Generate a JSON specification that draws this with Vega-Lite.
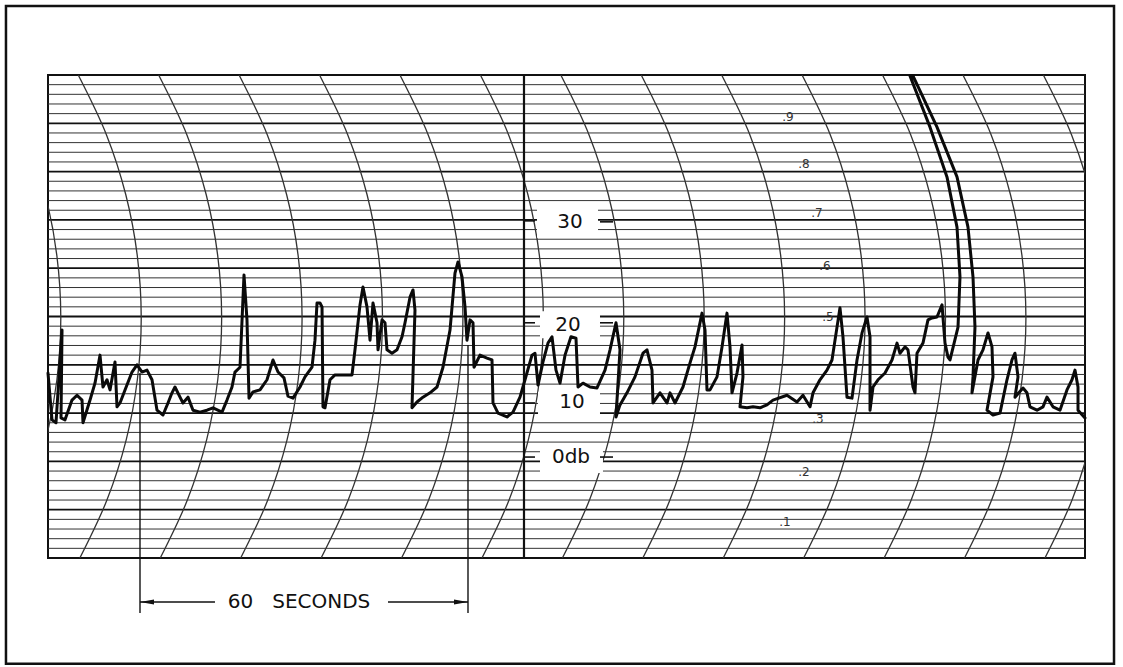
{
"$schema":"https://vega.github.io/schema/vega-lite/v6.json",
"width":1037,"height":483,"autosize":"none",
"padding":{"left":48,"top":75,"right":38,"bottom":109},
"background":"white",
"config":{"view":{"stroke":"#111","strokeWidth":2},"text":{"font":"DejaVu Sans"}},
"datasets":{
"fine":[{"v":0.2},{"v":0.4},{"v":0.6},{"v":0.8},{"v":1.2},{"v":1.4},{"v":1.6},{"v":1.8},{"v":2.2},{"v":2.4},{"v":2.6},{"v":2.8},{"v":3.2},{"v":3.4},{"v":3.6},{"v":3.8},{"v":4.2},{"v":4.4},{"v":4.6},{"v":4.8},{"v":5.2},{"v":5.4},{"v":5.6},{"v":5.8},{"v":6.2},{"v":6.4},{"v":6.6},{"v":6.8},{"v":7.2},{"v":7.4},{"v":7.6},{"v":7.8},{"v":8.2},{"v":8.4},{"v":8.6},{"v":8.8},{"v":9.2},{"v":9.4},{"v":9.6},{"v":9.8}],
"ints":[{"v":1},{"v":2},{"v":3},{"v":4},{"v":5},{"v":6},{"v":7},{"v":8},{"v":9}],
"arcs":[
{"a":0,"t":-9.41,"v":10},{"a":0,"t":-4.11,"v":8.76},{"a":0,"t":-0.49,"v":7.52},{"a":0,"t":1.65,"v":6.27},{"a":0,"t":2.4,"v":4.97},{"a":0,"t":1.67,"v":3.69},{"a":0,"t":-0.43,"v":2.44},{"a":0,"t":-4.03,"v":1.2},{"a":0,"t":-9.11,"v":0},
{"a":1,"t":5.67,"v":10},{"a":1,"t":10.97,"v":8.76},{"a":1,"t":14.59,"v":7.52},{"a":1,"t":16.73,"v":6.27},{"a":1,"t":17.48,"v":4.97},{"a":1,"t":16.75,"v":3.69},{"a":1,"t":14.65,"v":2.44},{"a":1,"t":11.05,"v":1.2},{"a":1,"t":5.97,"v":0},
{"a":2,"t":20.75,"v":10},{"a":2,"t":26.05,"v":8.76},{"a":2,"t":29.67,"v":7.52},{"a":2,"t":31.81,"v":6.27},{"a":2,"t":32.56,"v":4.97},{"a":2,"t":31.83,"v":3.69},{"a":2,"t":29.73,"v":2.44},{"a":2,"t":26.13,"v":1.2},{"a":2,"t":21.05,"v":0},
{"a":3,"t":35.83,"v":10},{"a":3,"t":41.13,"v":8.76},{"a":3,"t":44.75,"v":7.52},{"a":3,"t":46.89,"v":6.27},{"a":3,"t":47.64,"v":4.97},{"a":3,"t":46.91,"v":3.69},{"a":3,"t":44.81,"v":2.44},{"a":3,"t":41.21,"v":1.2},{"a":3,"t":36.13,"v":0},
{"a":4,"t":50.91,"v":10},{"a":4,"t":56.21,"v":8.76},{"a":4,"t":59.83,"v":7.52},{"a":4,"t":61.97,"v":6.27},{"a":4,"t":62.72,"v":4.97},{"a":4,"t":61.99,"v":3.69},{"a":4,"t":59.89,"v":2.44},{"a":4,"t":56.29,"v":1.2},{"a":4,"t":51.21,"v":0},
{"a":5,"t":65.99,"v":10},{"a":5,"t":71.29,"v":8.76},{"a":5,"t":74.91,"v":7.52},{"a":5,"t":77.05,"v":6.27},{"a":5,"t":77.8,"v":4.97},{"a":5,"t":77.07,"v":3.69},{"a":5,"t":74.97,"v":2.44},{"a":5,"t":71.37,"v":1.2},{"a":5,"t":66.29,"v":0},
{"a":6,"t":81.07,"v":10},{"a":6,"t":86.37,"v":8.76},{"a":6,"t":89.99,"v":7.52},{"a":6,"t":92.13,"v":6.27},{"a":6,"t":92.88,"v":4.97},{"a":6,"t":92.15,"v":3.69},{"a":6,"t":90.05,"v":2.44},{"a":6,"t":86.45,"v":1.2},{"a":6,"t":81.37,"v":0},
{"a":7,"t":96.15,"v":10},{"a":7,"t":101.45,"v":8.76},{"a":7,"t":105.07,"v":7.52},{"a":7,"t":107.21,"v":6.27},{"a":7,"t":107.96,"v":4.97},{"a":7,"t":107.23,"v":3.69},{"a":7,"t":105.13,"v":2.44},{"a":7,"t":101.53,"v":1.2},{"a":7,"t":96.45,"v":0},
{"a":8,"t":111.23,"v":10},{"a":8,"t":116.53,"v":8.76},{"a":8,"t":120.15,"v":7.52},{"a":8,"t":122.29,"v":6.27},{"a":8,"t":123.04,"v":4.97},{"a":8,"t":122.31,"v":3.69},{"a":8,"t":120.21,"v":2.44},{"a":8,"t":116.61,"v":1.2},{"a":8,"t":111.53,"v":0},
{"a":9,"t":126.31,"v":10},{"a":9,"t":131.61,"v":8.76},{"a":9,"t":135.23,"v":7.52},{"a":9,"t":137.37,"v":6.27},{"a":9,"t":138.12,"v":4.97},{"a":9,"t":137.39,"v":3.69},{"a":9,"t":135.29,"v":2.44},{"a":9,"t":131.69,"v":1.2},{"a":9,"t":126.61,"v":0},
{"a":10,"t":141.39,"v":10},{"a":10,"t":146.69,"v":8.76},{"a":10,"t":150.31,"v":7.52},{"a":10,"t":152.45,"v":6.27},{"a":10,"t":153.2,"v":4.97},{"a":10,"t":152.47,"v":3.69},{"a":10,"t":150.37,"v":2.44},{"a":10,"t":146.77,"v":1.2},{"a":10,"t":141.69,"v":0},
{"a":11,"t":156.47,"v":10},{"a":11,"t":161.77,"v":8.76},{"a":11,"t":165.39,"v":7.52},{"a":11,"t":167.53,"v":6.27},{"a":11,"t":168.28,"v":4.97},{"a":11,"t":167.55,"v":3.69},{"a":11,"t":165.45,"v":2.44},{"a":11,"t":161.85,"v":1.2},{"a":11,"t":156.77,"v":0},
{"a":12,"t":171.55,"v":10},{"a":12,"t":176.85,"v":8.76},{"a":12,"t":180.47,"v":7.52},{"a":12,"t":182.61,"v":6.27},{"a":12,"t":183.36,"v":4.97},{"a":12,"t":182.63,"v":3.69},{"a":12,"t":180.53,"v":2.44},{"a":12,"t":176.93,"v":1.2},{"a":12,"t":171.85,"v":0},
{"a":13,"t":186.63,"v":10},{"a":13,"t":191.93,"v":8.76},{"a":13,"t":195.55,"v":7.52},{"a":13,"t":197.69,"v":6.27},{"a":13,"t":198.44,"v":4.97},{"a":13,"t":197.71,"v":3.69},{"a":13,"t":195.61,"v":2.44},{"a":13,"t":192.01,"v":1.2},{"a":13,"t":186.93,"v":0}
],
"trace":[
{"t":0,"v":3.83},{"t":0.75,"v":2.86},{"t":1.5,"v":2.8},{"t":2.63,"v":4.72},{"t":2.44,"v":2.9},{"t":3.19,"v":2.86},{"t":4.5,"v":3.27},{"t":5.44,"v":3.37},{"t":6.38,"v":3.27},{"t":6.56,"v":2.8},
{"t":7.88,"v":3.27},{"t":8.81,"v":3.62},{"t":9.75,"v":4.2},{"t":10.31,"v":3.54},{"t":11.06,"v":3.69},{"t":11.63,"v":3.48},{"t":12.56,"v":4.06},{"t":12.94,"v":3.13},{"t":13.5,"v":3.21},{"t":14.44,"v":3.48},
{"t":15.75,"v":3.85},{"t":16.69,"v":4.0},{"t":17.63,"v":3.85},{"t":18.56,"v":3.89},{"t":19.5,"v":3.69},{"t":20.44,"v":3.06},{"t":21.56,"v":2.96},{"t":22.5,"v":3.21},{"t":23.25,"v":3.42},{"t":23.81,"v":3.54},
{"t":24.75,"v":3.33},{"t":25.31,"v":3.21},{"t":26.25,"v":3.33},{"t":27.19,"v":3.06},{"t":28.5,"v":3.02},{"t":29.81,"v":3.06},{"t":30.94,"v":3.11},{"t":32.63,"v":3.02},{"t":33.56,"v":3.27},{"t":34.5,"v":3.54},
{"t":35.06,"v":3.85},{"t":36,"v":3.95},{"t":36.75,"v":5.86},{"t":37.31,"v":4.93},{"t":37.69,"v":3.31},{"t":38.44,"v":3.44},{"t":39.75,"v":3.48},{"t":41.06,"v":3.69},{"t":42.19,"v":4.1},{"t":43.13,"v":3.85},
{"t":44.25,"v":3.73},{"t":45,"v":3.35},{"t":45.94,"v":3.31},{"t":47.25,"v":3.54},{"t":48.19,"v":3.75},{"t":49.5,"v":3.95},{"t":50.06,"v":4.51},{"t":50.44,"v":5.28},{"t":51,"v":5.28},{"t":51.38,"v":5.2},
{"t":51.56,"v":3.13},{"t":51.94,"v":3.11},{"t":52.88,"v":3.69},{"t":53.81,"v":3.79},{"t":55.31,"v":3.79},{"t":57,"v":3.79},{"t":57.56,"v":4.31},{"t":58.5,"v":5.24},{"t":59.06,"v":5.61},{"t":59.81,"v":5.2},
{"t":60.38,"v":4.51},{"t":60.94,"v":5.28},{"t":61.69,"v":4.87},{"t":61.88,"v":4.31},{"t":62.63,"v":4.93},{"t":63.19,"v":4.87},{"t":63.56,"v":4.31},{"t":64.5,"v":4.24},{"t":65.44,"v":4.31},{"t":66.38,"v":4.58},
{"t":66.94,"v":4.87},{"t":67.88,"v":5.4},{"t":68.44,"v":5.55},{"t":68.81,"v":5.13},{"t":68.25,"v":3.11},{"t":69.19,"v":3.23},{"t":70.31,"v":3.33},{"t":71.63,"v":3.42},{"t":72.94,"v":3.54},{"t":74.06,"v":3.95},
{"t":75.38,"v":4.72},{"t":76.31,"v":5.9},{"t":76.88,"v":6.13},{"t":77.63,"v":5.82},{"t":78.19,"v":5.2},{"t":78.56,"v":4.51},{"t":79.13,"v":4.93},{"t":79.69,"v":4.87},{"t":79.88,"v":3.95},{"t":81,"v":4.2},
{"t":82.31,"v":4.14},{"t":83.25,"v":4.1},{"t":83.44,"v":3.21},{"t":84.38,"v":3.0},{"t":86.06,"v":2.92},{"t":87.19,"v":3.02},{"t":88.5,"v":3.33},{"t":89.44,"v":3.69},{"t":90.75,"v":4.2},{"t":91.31,"v":4.24},
{"t":91.88,"v":3.58},{"t":92.81,"v":4.06},{"t":93.75,"v":4.45},{"t":94.5,"v":4.58},{"t":95.25,"v":3.89},{"t":96,"v":3.62},{"t":96.94,"v":4.2},{"t":98.06,"v":4.58},{"t":99,"v":4.55},{"t":99.38,"v":3.54},
{"t":100.31,"v":3.62},{"t":101.63,"v":3.54},{"t":102.94,"v":3.52},{"t":104.44,"v":3.89},{"t":105.38,"v":4.31},{"t":106.5,"v":4.87},{"t":107.25,"v":4.31},{"t":106.5,"v":2.92},{"t":107.25,"v":3.17},{"t":108.56,"v":3.42},
{"t":110.06,"v":3.75},{"t":111.56,"v":4.24},{"t":112.31,"v":4.31},{"t":113.25,"v":3.89},{"t":113.44,"v":3.21},{"t":114.75,"v":3.42},{"t":116.06,"v":3.21},{"t":116.63,"v":3.42},{"t":117.56,"v":3.21},{"t":119.06,"v":3.54},
{"t":120.38,"v":4.04},{"t":121.31,"v":4.37},{"t":122.63,"v":5.07},{"t":123.19,"v":4.72},{"t":123.56,"v":3.48},{"t":124.13,"v":3.48},{"t":125.44,"v":3.75},{"t":126.38,"v":4.37},{"t":127.31,"v":5.07},{"t":127.88,"v":4.37},
{"t":128.25,"v":3.42},{"t":129.19,"v":3.83},{"t":130.13,"v":4.41},{"t":130.31,"v":3.75},{"t":129.75,"v":3.13},{"t":131.06,"v":3.11},{"t":132.19,"v":3.13},{"t":133.5,"v":3.11},{"t":134.81,"v":3.17},{"t":135.94,"v":3.27},
{"t":138.56,"v":3.37},{"t":140.44,"v":3.23},{"t":141.56,"v":3.37},{"t":142.88,"v":3.13},{"t":143.44,"v":3.42},{"t":144.75,"v":3.69},{"t":146.06,"v":3.89},{"t":147,"v":4.1},{"t":147.94,"v":4.78},{"t":148.5,"v":5.18},
{"t":149.06,"v":4.58},{"t":149.81,"v":3.33},{"t":150.75,"v":3.31},{"t":151.69,"v":4.1},{"t":152.63,"v":4.66},{"t":153.56,"v":4.99},{"t":154.13,"v":4.58},{"t":154.13,"v":3.06},{"t":154.69,"v":3.54},{"t":155.63,"v":3.69},
{"t":156.94,"v":3.83},{"t":158.25,"v":4.1},{"t":159.19,"v":4.45},{"t":159.75,"v":4.24},{"t":160.69,"v":4.37},{"t":161.25,"v":4.31},{"t":162.19,"v":3.54},{"t":162.56,"v":3.42},{"t":162.94,"v":4.24},{"t":164.06,"v":4.45},
{"t":165,"v":4.93},{"t":165.75,"v":4.97},{"t":166.69,"v":4.99},{"t":167.63,"v":5.24},{"t":168.19,"v":4.45},{"t":168.75,"v":4.16},{"t":169.13,"v":4.1},{"t":170.63,"v":4.78},{"t":171,"v":5.82},{"t":170.44,"v":6.85},
{"t":168.56,"v":7.89},{"t":165.38,"v":8.92},{"t":161.63,"v":9.98},{"t":162.19,"v":9.98},{"t":166.69,"v":8.92},{"t":170.44,"v":7.89},{"t":172.5,"v":6.85},{"t":173.44,"v":5.82},{"t":173.81,"v":4.78},{"t":173.44,"v":3.75},
{"t":173.25,"v":3.42},{"t":174.38,"v":4.1},{"t":175.31,"v":4.31},
{"t":176.25,"v":4.66},{"t":177,"v":4.37},{"t":177.19,"v":3.75},{"t":176.06,"v":3.06},{"t":177.19,"v":2.96},{"t":178.5,"v":3.0},{"t":179.81,"v":3.69},{"t":180.75,"v":4.1},{"t":181.31,"v":4.24},{"t":181.88,"v":3.75},
{"t":181.31,"v":3.33},{"t":182.81,"v":3.52},{"t":183.56,"v":3.42},{"t":184.13,"v":3.13},{"t":185.44,"v":3.06},{"t":186.56,"v":3.13},{"t":187.31,"v":3.33},{"t":188.44,"v":3.13},{"t":189.75,"v":3.06},{"t":191.06,"v":3.48},
{"t":192,"v":3.69},{"t":192.56,"v":3.89},{"t":193.13,"v":3.54},{"t":193.13,"v":3.06},{"t":194.44,"v":2.9}
],
"boxes":[{"t":91.69,"t2":103.13,"v":7.27,"v2":6.63},{"t":92.25,"t2":103.5,"v":5.11,"v2":4.55},{"t":91.88,"t2":103.5,"v":3.44,"v2":2.9},{"t":92.25,"t2":104.06,"v":2.38,"v2":1.76}],
"ticks":[{"t":89.25,"t2":91.31,"v":6.98},{"t":89.25,"t2":91.31,"v":4.87},{"t":89.25,"t2":91.31,"v":3.21},{"t":89.25,"t2":91.31,"v":2.09},{"t":103.5,"t2":105.94,"v":6.96},{"t":103.5,"t2":105.94,"v":4.87},{"t":103.5,"t2":105.94,"v":2.09}],
"dblabels":[{"t":97.88,"v":6.96,"label":"30"},{"t":97.5,"v":4.83,"label":"20"},{"t":98.25,"v":3.22,"label":"10"},{"t":98.06,"v":2.09,"label":"0db"}],
"units":[{"t":138.75,"v":9.13,"label":".9"},{"t":141.75,"v":8.16,"label":".8"},{"t":144.19,"v":7.14,"label":".7"},{"t":145.69,"v":6.05,"label":".6"},{"t":146.25,"v":4.99,"label":".5"},{"t":144.38,"v":2.88,"label":".3"},{"t":141.75,"v":1.78,"label":".2"},{"t":138.19,"v":0.75,"label":".1"}],
"center":[{"t":89.25,"v":0,"v2":10}],
"vlines":[{"t":17.25,"v":3.83,"v2":-1.14},{"t":78.75,"v":4.41,"v2":-1.14}],
"alines":[{"t":17.25,"t2":31.31,"v":-0.91},{"t":63.75,"t2":78.75,"v":-0.91}],
"aleft":[{"t":18.56,"v":-0.91}],
"aright":[{"t":77.44,"v":-0.91}],
"note":[{"t":47.06,"v":-0.91,"label":"60\u00a0\u00a0\u00a0SECONDS"}],
"frame":[{"t":-7.88,"t2":199.88,"v":11.43,"v2":-2.19}]
},
"layer":[
{"data":{"name":"fine"},"mark":{"type":"rule","color":"#333","strokeWidth":1},
 "encoding":{"y":{"field":"v","type":"quantitative","scale":{"domain":[0,10],"nice":false,"zero":false},"axis":null}}},
{"data":{"name":"ints"},"mark":{"type":"rule","color":"#111","strokeWidth":1.8},
 "encoding":{"y":{"field":"v","type":"quantitative","scale":{"domain":[0,10],"nice":false,"zero":false},"axis":null}}},
{"data":{"name":"arcs"},"mark":{"type":"line","color":"#333","strokeWidth":1.3,"interpolate":"catmull-rom","clip":true},
 "encoding":{"x":{"field":"t","type":"quantitative","scale":{"domain":[0,194.44],"nice":false,"zero":false},"axis":null},
  "y":{"field":"v","type":"quantitative","scale":{"domain":[0,10],"nice":false,"zero":false},"axis":null},
  "detail":{"field":"a"},"order":{"value":null}}},
{"data":{"name":"center"},"mark":{"type":"rule","color":"#111","strokeWidth":2.2},
 "encoding":{"x":{"field":"t","type":"quantitative","scale":{"domain":[0,194.44],"nice":false,"zero":false},"axis":null},
  "y":{"field":"v","type":"quantitative","scale":{"domain":[0,10],"nice":false,"zero":false},"axis":null},"y2":{"field":"v2"}}},
{"data":{"name":"boxes"},"mark":{"type":"rect","color":"white"},
 "encoding":{"x":{"field":"t","type":"quantitative","scale":{"domain":[0,194.44],"nice":false,"zero":false},"axis":null},"x2":{"field":"t2"},
  "y":{"field":"v","type":"quantitative","scale":{"domain":[0,10],"nice":false,"zero":false},"axis":null},"y2":{"field":"v2"}}},
{"data":{"name":"ticks"},"mark":{"type":"rule","color":"#111","strokeWidth":1.6},
 "encoding":{"x":{"field":"t","type":"quantitative","scale":{"domain":[0,194.44],"nice":false,"zero":false},"axis":null},"x2":{"field":"t2"},
  "y":{"field":"v","type":"quantitative","scale":{"domain":[0,10],"nice":false,"zero":false},"axis":null}}},
{"data":{"name":"dblabels"},"mark":{"type":"text","fontSize":20,"color":"#111","align":"center","baseline":"middle"},
 "encoding":{"x":{"field":"t","type":"quantitative","scale":{"domain":[0,194.44],"nice":false,"zero":false},"axis":null},
  "y":{"field":"v","type":"quantitative","scale":{"domain":[0,10],"nice":false,"zero":false},"axis":null},"text":{"field":"label"}}},
{"data":{"name":"units"},"mark":{"type":"text","fontSize":12,"color":"#333","align":"center","baseline":"middle"},
 "encoding":{"x":{"field":"t","type":"quantitative","scale":{"domain":[0,194.44],"nice":false,"zero":false},"axis":null},
  "y":{"field":"v","type":"quantitative","scale":{"domain":[0,10],"nice":false,"zero":false},"axis":null},"text":{"field":"label"}}},
{"data":{"name":"trace"},"mark":{"type":"line","color":"#0a0a0a","strokeWidth":3,"strokeJoin":"round","strokeCap":"round"},
 "encoding":{"x":{"field":"t","type":"quantitative","scale":{"domain":[0,194.44],"nice":false,"zero":false},"axis":null},
  "y":{"field":"v","type":"quantitative","scale":{"domain":[0,10],"nice":false,"zero":false},"axis":null},"order":{"value":null}}},
{"data":{"name":"vlines"},"mark":{"type":"rule","color":"#111","strokeWidth":1.4},
 "encoding":{"x":{"field":"t","type":"quantitative","scale":{"domain":[0,194.44],"nice":false,"zero":false},"axis":null},
  "y":{"field":"v","type":"quantitative","scale":{"domain":[0,10],"nice":false,"zero":false},"axis":null},"y2":{"field":"v2"}}},
{"data":{"name":"alines"},"mark":{"type":"rule","color":"#111","strokeWidth":1.4},
 "encoding":{"x":{"field":"t","type":"quantitative","scale":{"domain":[0,194.44],"nice":false,"zero":false},"axis":null},"x2":{"field":"t2"},
  "y":{"field":"v","type":"quantitative","scale":{"domain":[0,10],"nice":false,"zero":false},"axis":null}}},
{"data":{"name":"aleft"},"mark":{"type":"point","shape":"M-1,0L1,-0.35L1,0.35Z","filled":true,"color":"#111","size":196,"opacity":1},
 "encoding":{"x":{"field":"t","type":"quantitative","scale":{"domain":[0,194.44],"nice":false,"zero":false},"axis":null},
  "y":{"field":"v","type":"quantitative","scale":{"domain":[0,10],"nice":false,"zero":false},"axis":null}}},
{"data":{"name":"aright"},"mark":{"type":"point","shape":"M1,0L-1,-0.35L-1,0.35Z","filled":true,"color":"#111","size":196,"opacity":1},
 "encoding":{"x":{"field":"t","type":"quantitative","scale":{"domain":[0,194.44],"nice":false,"zero":false},"axis":null},
  "y":{"field":"v","type":"quantitative","scale":{"domain":[0,10],"nice":false,"zero":false},"axis":null}}},
{"data":{"name":"note"},"mark":{"type":"text","fontSize":20,"color":"#111","align":"center","baseline":"middle"},
 "encoding":{"x":{"field":"t","type":"quantitative","scale":{"domain":[0,194.44],"nice":false,"zero":false},"axis":null},
  "y":{"field":"v","type":"quantitative","scale":{"domain":[0,10],"nice":false,"zero":false},"axis":null},"text":{"field":"label"}}},
{"data":{"name":"frame"},"mark":{"type":"rect","filled":false,"stroke":"#111","strokeWidth":2.5,"fill":null},
 "encoding":{"x":{"field":"t","type":"quantitative","scale":{"domain":[0,194.44],"nice":false,"zero":false},"axis":null},"x2":{"field":"t2"},
  "y":{"field":"v","type":"quantitative","scale":{"domain":[0,10],"nice":false,"zero":false},"axis":null},"y2":{"field":"v2"}}}
]
}
